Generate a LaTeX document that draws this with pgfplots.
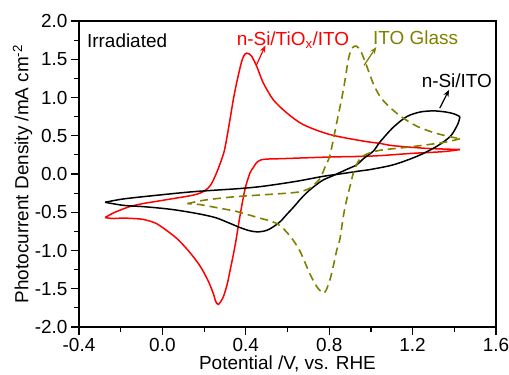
\documentclass[border=0pt]{standalone}
\usepackage{pgfplots}
\pgfplotsset{compat=1.18}
\usepackage{fontspec}
\setmainfont{Liberation Sans}
\usetikzlibrary{arrows.meta}
\definecolor{olivecv}{RGB}{128,128,0}

% cyclic voltammograms, one table per branch of each loop
\pgfplotstableread{
x y
-0.275 -0.570
-0.250 -0.530
-0.219 -0.490
-0.155 -0.425
-0.090 -0.385
-0.027 -0.357
0.050 -0.322
0.100 -0.300
0.150 -0.275
0.185 -0.245
0.210 -0.205
0.230 -0.150
0.246 -0.070
0.262 0.030
0.284 0.190
0.300 0.340
0.324 0.710
0.340 0.970
0.356 1.190
0.380 1.470
0.395 1.565
0.404 1.580
0.416 1.570
0.428 1.540
0.452 1.410
0.484 1.190
0.532 0.970
0.596 0.800
0.676 0.645
0.804 0.515
0.964 0.430
1.044 0.400
1.107 0.370
1.267 0.335
1.427 0.320
}\tioFwd
\pgfplotstableread{
x y
1.427 0.320
1.346 0.292
1.188 0.268
1.044 0.240
0.948 0.230
0.804 0.222
0.564 0.200
0.500 0.195
0.472 0.183
0.452 0.150
0.435 0.080
0.420 0.014
0.396 -0.200
0.372 -0.550
0.348 -0.945
0.324 -1.270
0.310 -1.450
0.290 -1.620
0.268 -1.705
0.255 -1.660
0.245 -1.570
0.220 -1.400
0.180 -1.200
0.130 -1.020
0.076 -0.860
0.036 -0.770
-0.027 -0.650
-0.075 -0.605
-0.107 -0.588
-0.187 -0.576
-0.235 -0.582
-0.275 -0.570
}\tioRev
\pgfplotstableread{
x y
-0.275 -0.370
-0.187 -0.410
-0.100 -0.425
-0.027 -0.442
0.050 -0.465
0.132 -0.500
0.200 -0.535
0.260 -0.575
0.324 -0.645
0.372 -0.700
0.420 -0.743
0.460 -0.757
0.500 -0.737
0.532 -0.690
0.566 -0.620
0.596 -0.530
0.630 -0.430
0.660 -0.335
0.690 -0.250
0.724 -0.170
0.770 -0.080
0.820 -0.020
0.884 0.060
0.932 0.120
0.964 0.200
1.012 0.300
1.044 0.420
1.107 0.610
1.172 0.750
1.236 0.810
1.300 0.825
1.360 0.810
1.400 0.785
1.427 0.750
}\itoFwd
\pgfplotstableread{
x y
1.427 0.750
1.422 0.690
1.411 0.620
1.380 0.490
1.315 0.360
1.220 0.230
1.107 0.120
1.000 0.060
0.948 0.040
0.850 0.000
0.772 -0.030
0.644 -0.095
0.484 -0.160
0.372 -0.190
0.250 -0.212
0.132 -0.235
-0.027 -0.278
-0.187 -0.326
-0.275 -0.370
}\itoRev
\pgfplotstableread{
x y
0.120 -0.387
0.196 -0.344
0.292 -0.312
0.372 -0.292
0.484 -0.272
0.600 -0.250
0.660 -0.232
0.708 -0.185
0.740 -0.110
0.760 -0.040
0.780 0.090
0.804 0.250
0.836 0.670
0.868 1.100
0.892 1.500
0.908 1.640
0.920 1.670
0.932 1.670
0.944 1.640
0.956 1.580
0.980 1.410
1.010 1.190
1.040 1.030
1.076 0.910
1.140 0.760
1.220 0.625
1.315 0.530
1.427 0.460
}\glassFwd
\pgfplotstableread{
x y
1.427 0.460
1.347 0.412
1.188 0.354
1.044 0.310
0.980 0.260
0.948 0.200
0.920 0.050
0.900 -0.160
0.884 -0.335
0.868 -0.550
0.852 -0.840
0.836 -1.000
0.820 -1.200
0.804 -1.380
0.785 -1.520
0.772 -1.558
0.758 -1.530
0.740 -1.470
0.708 -1.310
0.660 -1.010
0.612 -0.810
0.550 -0.650
0.452 -0.565
0.356 -0.490
0.292 -0.456
0.180 -0.400
0.120 -0.387
}\glassRev

\begin{document}
\begin{tikzpicture}
\path[use as bounding box] (0,0) rectangle (509bp,375bp);
\begin{axis}[
  at={(79bp,48bp)}, anchor=south west,
  width=417bp, height=306bp, scale only axis,
  xmin=-0.4, xmax=1.6, ymin=-2, ymax=2,
  xtick={-0.4,0,0.4,0.8,1.2,1.6},
  ytick={-2,-1.5,-1,-0.5,0,0.5,1,1.5,2},
  minor x tick num=1, minor y tick num=1,
  tick pos=left, tick align=outside,
  major tick length=8bp, minor tick length=4.5bp,
  every tick/.style={black, line width=1.2bp},
  axis line style={line width=1.3bp},
  /pgf/number format/assume math mode=true,
  xticklabel style={/pgf/number format/fixed, /pgf/number format/fixed zerofill, /pgf/number format/precision=1},
  yticklabel style={/pgf/number format/fixed, /pgf/number format/fixed zerofill, /pgf/number format/precision=1},
  tick label style={font=\fontsize{19}{22}\selectfont},
  label style={font=\fontsize{19}{22}\selectfont},
  xlabel={Potential /V, vs. RHE},
  ylabel={Photocurrent Density /mA cm\textsuperscript{-2}},
  xlabel style={at={(axis description cs:0.5,-0.138)}, anchor=base},
  ylabel style={at={(axis description cs:-0.1216,0.5)}, anchor=base},
]
\addplot[red, line width=1.5bp, smooth, tension=0.5] table {\tioFwd};
\addplot[red, line width=1.5bp, smooth, tension=0.5] table {\tioRev};
\addplot[black, line width=1.5bp, smooth, tension=0.5] table {\itoFwd};
\addplot[black, line width=1.5bp, smooth, tension=0.5] table {\itoRev};
\addplot[olivecv, line width=1.6bp, dash pattern=on 8bp off 5bp, smooth, tension=0.5] table {\glassFwd};
\addplot[olivecv, line width=1.6bp, dash pattern=on 8bp off 5bp, smooth, tension=0.5] table {\glassRev};

\node[anchor=base west, font=\fontsize{19}{22}\selectfont, inner sep=0pt] at (axis cs:-0.362,1.656) {Irradiated};
\node[anchor=base west, red, font=\fontsize{19}{22}\selectfont, inner sep=0pt] at (axis cs:0.356,1.68) {n-Si/TiO\textsubscript{x}/ITO};
\node[anchor=base west, olivecv, font=\fontsize{19}{22}\selectfont, inner sep=0pt] at (axis cs:1.010,1.69) {ITO Glass};
\node[anchor=base west, black, font=\fontsize{19}{22}\selectfont, inner sep=0pt] at (axis cs:1.243,1.125) {n-Si/ITO};

\draw[red, line width=1.2bp, -{Stealth[length=7bp,width=5.5bp]}] (axis cs:0.452,1.43) -- (axis cs:0.494,1.68);
\draw[olivecv, line width=1.2bp, -{Stealth[length=7bp,width=5.5bp]}] (axis cs:0.967,1.42) -- (axis cs:1.026,1.66);
\draw[black, line width=1.2bp, -{Stealth[length=7bp,width=5.5bp]}] (axis cs:1.33,0.86) -- (axis cs:1.375,1.10);
\end{axis}
\end{tikzpicture}
\end{document}
